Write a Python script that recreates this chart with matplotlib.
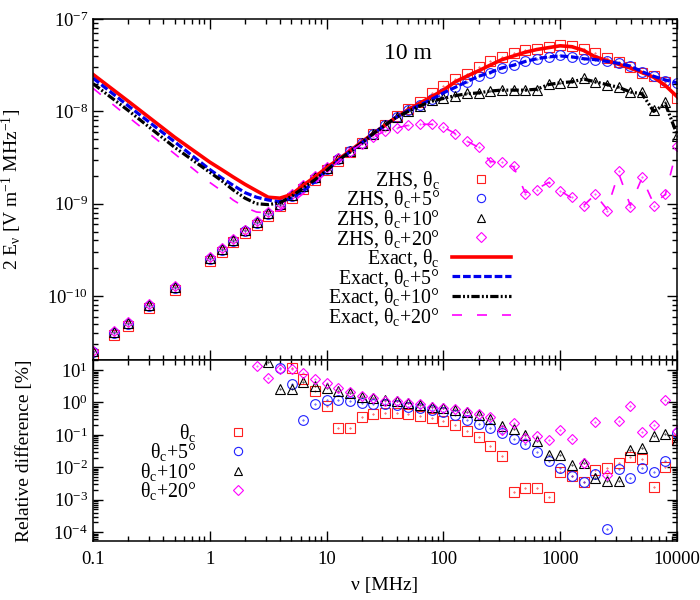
import numpy as np
import matplotlib
matplotlib.use("Agg")
import matplotlib.pyplot as plt
from matplotlib.ticker import LogLocator, NullFormatter, FuncFormatter

plt.rcParams["font.family"] = ["Liberation Serif", "DejaVu Serif"]
plt.rcParams["mathtext.fontset"] = "custom"
plt.rcParams["mathtext.rm"] = "Liberation Serif"
plt.rcParams["mathtext.it"] = "Liberation Serif:italic"
plt.rcParams["axes.unicode_minus"] = False

# --- top panel: ZHS points (log10 of 2E_nu, V/m/MHz)
nu_zhs = [0.1, 0.15, 0.2, 0.3, 0.5, 1.0, 1.26, 1.58, 2.0, 2.51, 3.16, 3.98, 5.01, 6.31, 7.94,
          10, 12.6, 15.8, 20, 25.1, 31.6, 39.8, 50.1, 63.1, 79.4,
          100, 126, 158, 200, 251, 316, 398, 501, 631, 794,
          1000, 1259, 1585, 1995, 2512, 3162, 3981, 5012, 6310, 7943, 10000]

zhs_c = [-10.63, -10.42, -10.32, -10.13, -9.93, -9.62, -9.52, -9.42, -9.32, -9.23, -9.13, -9.03,
         -8.94, -8.84, -8.74, -8.64, -8.54, -8.44,
         -8.34, -8.24, -8.15, -8.05, -7.97, -7.90, -7.80, -7.73,
         -7.65, -7.59, -7.52, -7.45, -7.41, -7.37, -7.34, -7.32, -7.30, -7.28,
         -7.29, -7.32, -7.37, -7.42, -7.47, -7.52, -7.58, -7.62, -7.68, -7.86]
zhs_5 = [-10.61, -10.40, -10.30, -10.11, -9.91, -9.60, -9.50, -9.40, -9.30, -9.21, -9.11, -9.01,
         -8.92, -8.82, -8.72, -8.62, -8.52, -8.43,
         -8.34, -8.24, -8.15, -8.06, -7.99, -7.93, -7.87, -7.80,
         -7.74, -7.68, -7.62, -7.58, -7.53, -7.50, -7.46, -7.43, -7.41, -7.39,
         -7.41, -7.43, -7.44, -7.46, -7.48, -7.51, -7.57, -7.62, -7.67, -7.69]
zhs_10 = [-10.60, -10.39, -10.29, -10.10, -9.90, -9.59, -9.49, -9.39, -9.29, -9.20, -9.10, -9.00,
          -8.91, -8.81, -8.71, -8.61, -8.51, -8.43,
          -8.34, -8.24, -8.15, -8.06, -8.00, -7.94, -7.88, -7.86,
          -7.83, -7.80, -7.80, -7.78, -7.77, -7.77, -7.77, -7.77, -7.70, -7.69,
          -7.68, -7.64, -7.68, -7.71, -7.74, -7.79, -7.79, -7.99, -7.90, -8.27]
zhs_20 = [-10.59, -10.38, -10.28, -10.09, -9.89, -9.58, -9.48, -9.38, -9.28, -9.19, -9.09, -8.99,
          -8.90, -8.80, -8.70, -8.60, -8.51, -8.44,
          -8.35, -8.28, -8.21, -8.18, -8.15, -8.14, -8.14, -8.17,
          -8.24, -8.32, -8.39, -8.55, -8.55, -8.59, -8.90, -8.85, -8.76, -8.86,
          -8.93, -9.03, -8.89, -9.08, -8.65, -9.04, -8.71, -9.02, -8.90, -8.38]

# --- top panel: exact curves
nu_exact = [0.1, 0.2, 0.5, 1.0, 1.26, 1.58, 2.0, 2.51, 3.16, 3.98, 5.01, 6.31, 7.94,
            10, 12.6, 15.8, 20, 25.1, 31.6, 39.8, 50.1, 63.1, 79.4,
            100, 126, 158, 200, 251, 316, 398, 501, 631, 794,
            1000, 1259, 1585, 1995, 2512, 3162, 3981, 5012, 6310, 7943, 10000]

ex_c = [-7.60, -7.89, -8.28,
        -8.55, -8.63, -8.71, -8.79, -8.86, -8.93, -8.94, -8.90, -8.80, -8.71, -8.61,
        -8.52, -8.43, -8.33, -8.24, -8.15, -8.06, -7.98, -7.91, -7.84, -7.77,
        -7.68, -7.62, -7.56, -7.50, -7.44, -7.40, -7.36, -7.33, -7.31, -7.29,
        -7.30, -7.34, -7.41, -7.45, -7.49, -7.53, -7.58, -7.63, -7.72, -7.84]
ex_5 = [-7.64, -7.94, -8.33,
        -8.63, -8.72, -8.80, -8.88, -8.93, -8.96, -8.98, -8.94, -8.86, -8.76, -8.64,
        -8.53, -8.44, -8.34, -8.24, -8.15, -8.06, -7.99, -7.93, -7.87, -7.80,
        -7.74, -7.68, -7.62, -7.58, -7.53, -7.50, -7.46, -7.43, -7.41, -7.40,
        -7.41, -7.43, -7.44, -7.46, -7.48, -7.51, -7.57, -7.62, -7.66, -7.69]
ex_10 = [-7.70, -7.99, -8.39,
         -8.66, -8.75, -8.85, -8.94, -9.00, -9.01, -8.99, -8.92, -8.83, -8.74, -8.64,
         -8.53, -8.44, -8.34, -8.24, -8.15, -8.06, -8.00, -7.94, -7.89, -7.86,
         -7.83, -7.81, -7.80, -7.78, -7.77, -7.77, -7.77, -7.76, -7.71, -7.69,
         -7.68, -7.65, -7.68, -7.71, -7.74, -7.79, -7.81, -8.00, -7.92, -8.25]
ex_20 = [-7.75, -8.06, -8.46,
         -8.77, -8.86, -8.96, -9.04, -9.09, -9.10, -9.07, -8.99, -8.89, -8.78, -8.66,
         -8.54, -8.44, -8.35, -8.28, -8.21, -8.18, -8.15, -8.14, -8.14, -8.17,
         -8.24, -8.32, -8.39, -8.54, -8.56, -8.60, -8.88, -8.84, -8.77, -8.86,
         -8.94, -9.02, -8.90, -9.06, -8.67, -9.02, -8.72, -9.00, -8.90, -8.40]

# --- bottom panel: log10 of relative difference [%]
nu_rel = [2.51, 3.16, 3.98, 5.01, 6.31, 7.94, 10, 12.6, 15.8, 20, 25.1, 31.6, 39.8, 50.1, 63.1, 79.4,
          100, 126, 158, 200, 251, 316, 398, 501, 631, 794,
          1000, 1259, 1585, 1995, 2512, 3162, 3981, 5012, 6310, 7943, 10000]
nan = np.nan
rel_c = [nan, nan, nan, 1.07, 0.72, 0.35, -0.10,
         -0.78, -0.78, -0.46, -0.36, -0.34, -0.34, -0.37, -0.41, -0.49, -0.57,
         -0.70, -0.87, -1.08, -1.35, -1.65, -2.76, -2.65, -2.65, -2.91, -2.14,
         -2.26, -2.45, -2.09, -2.03, -1.88, -1.67, -1.76, -2.62, -1.98, -1.16]
rel_5 = [nan, nan, 1.07, 0.56, -0.54, -0.06, 0.07,
         0.07, 0.05, -0.01, -0.05, -0.05, -0.08, -0.13, -0.18, -0.23, -0.29,
         -0.39, -0.54, -0.67, -0.80, -0.95, -1.13, -1.29, -1.54, -1.81, -2.01,
         -2.26, -2.45, -2.22, -3.91, -2.06, -2.32, -2.03, -2.16, -1.81, -0.95]
rel_10 = [nan, 1.25, 0.43, 0.43, 0.64, 0.52, 0.45,
          0.35, 0.28, 0.18, 0.13, 0.07, 0.05, -0.01, -0.08, -0.15, -0.18,
          -0.23, -0.31, -0.39, -0.52, -0.72, -0.82, -0.99, -1.19, -1.62, -1.62,
          -1.93, -1.88, -2.32, -2.43, -2.43, -1.47, -1.42, -1.04, -0.98, -1.16]
rel_20 = [1.12, 0.76, 1.03, 1.03, 0.90, 0.72, 0.59,
          0.45, 0.31, 0.20, 0.13, 0.05, 0.05, -0.01, -0.06, -0.13, -0.18,
          -0.21, -0.29, -0.36, -0.46, -0.85, -0.63, -1.11, -1.04, -1.16, -0.85,
          -1.13, -1.88, -0.59, -2.24, -0.56, -0.11, -0.92, -0.70, 0.07, -0.88]

zhs_labels = ["ZHS, θ$_{\\mathregular{c}}$", "ZHS, θ$_{\\mathregular{c}}$+5°",
              "ZHS, θ$_{\\mathregular{c}}$+10°", "ZHS, θ$_{\\mathregular{c}}$+20°"]
exact_labels = ["Exact, θ$_{\\mathregular{c}}$", "Exact, θ$_{\\mathregular{c}}$+5°",
                "Exact, θ$_{\\mathregular{c}}$+10°", "Exact, θ$_{\\mathregular{c}}$+20°"]
rel_labels = ["θ$_{\\mathregular{c}}$", "θ$_{\\mathregular{c}}$+5°",
              "θ$_{\\mathregular{c}}$+10°", "θ$_{\\mathregular{c}}$+20°"]

colors = ["#ff2020", "#2020ff", "black", "#ff00ff"]
markers = ["s", "o", "^", "D"]
msizes = [7, 7, 6.5, 5.5]

fig = plt.figure(figsize=(7, 6), dpi=100)
ax1 = fig.add_axes([0.1329, 0.40, 0.8343, 0.5683])
ax2 = fig.add_axes([0.1329, 0.0983, 0.8343, 0.3017])

# points
for vals, lab, c, m, ms in zip([zhs_c, zhs_5, zhs_10, zhs_20], zhs_labels, colors, markers, msizes):
    y = np.power(10.0, vals)
    ax1.plot(nu_zhs, y, ls="none", marker=m, ms=ms, mfc="none", mec=c, mew=0.8, label=lab)
    ax1.plot(nu_zhs, y, ls="none", marker=".", ms=0.8, color=c)

# exact lines
ax1.plot(nu_exact, np.power(10.0, ex_c), color="red", lw=2.6, label=exact_labels[0])
ax1.plot(nu_exact, np.power(10.0, ex_5), color="#0000ee", lw=2.3, dashes=(2.4, 0.9),
         label=exact_labels[1])
ax1.plot(nu_exact, np.power(10.0, ex_10), color="black", lw=2.3,
         dashes=(2.6, 0.7, 0.6, 0.7, 0.6, 0.7), label=exact_labels[2])
ax1.plot(nu_exact, np.power(10.0, ex_20), color="#ff00ff", lw=1.2, dashes=(6, 9),
         label=exact_labels[3])

for vals, lab, c, m, ms in zip([rel_c, rel_5, rel_10, rel_20], rel_labels, colors, markers, msizes):
    y = np.power(10.0, np.array(vals))
    ax2.plot(nu_rel, y, ls="none", marker=m, ms=ms, mfc="none", mec=c, mew=0.8, label=lab)
    ax2.plot(nu_rel, y, ls="none", marker=".", ms=0.8, color=c)

for ax in (ax1, ax2):
    ax.set_xscale("log")
    ax.set_yscale("log")
    ax.set_xlim(0.1, 10000)
    ax.xaxis.set_minor_locator(LogLocator(base=10, subs=np.arange(2, 10), numticks=100))
    ax.yaxis.set_minor_locator(LogLocator(base=10, subs=np.arange(2, 10), numticks=100))
    ax.xaxis.set_minor_formatter(NullFormatter())
    ax.yaxis.set_minor_formatter(NullFormatter())
    ax.tick_params(which="both", direction="in", top=True, right=True, width=1, labelsize=13.5)
    ax.tick_params(which="major", length=7)
    ax.tick_params(which="minor", length=3.5)
    for s in ax.spines.values():
        s.set_linewidth(1.1)

ax1.set_ylim(2.03e-11, 1e-7)
ax1.yaxis.set_major_locator(LogLocator(base=10, numticks=20))
ax1.tick_params(labelbottom=False)
ax1.set_ylabel("2 E$_{\\mathregular{ν}}$ [V m$^{\\mathregular{-1}}$ MHz$^{\\mathregular{-1}}$]",
               fontsize=14)
ax1.yaxis.set_label_coords(-0.118, 0.5)
ax1.text(0.54, 0.90, "10 m", transform=ax1.transAxes, fontsize=17, ha="center", va="center")
ax1.legend(loc="upper right", bbox_to_anchor=(0.716, 0.56), markerfirst=False, frameon=False,
           fontsize=14.3, handlelength=3.0, handletextpad=0.6, labelspacing=-0.12,
           borderpad=0, borderaxespad=0, numpoints=1, markerscale=0.85)

ax2.set_ylim(5.3e-5, 20.4)
ax2.yaxis.set_major_locator(LogLocator(base=10, numticks=20))
ax2.xaxis.set_major_formatter(FuncFormatter(lambda v, _: "%g" % v))
ax2.tick_params(axis="x", pad=7)
ax2.set_ylabel("Relative difference [%]", fontsize=14)
ax2.yaxis.set_label_coords(-0.102, 0.5)
ax2.set_xlabel("ν [MHz]", fontsize=14, labelpad=7)
ax2.legend(loc="upper right", bbox_to_anchor=(0.275, 0.66), markerfirst=False, frameon=False,
           fontsize=14.3, handlelength=1.6, handletextpad=1.3, labelspacing=-0.12,
           borderpad=0, borderaxespad=0, numpoints=1, markerscale=0.85)

fig.savefig("out.png", dpi=100)
